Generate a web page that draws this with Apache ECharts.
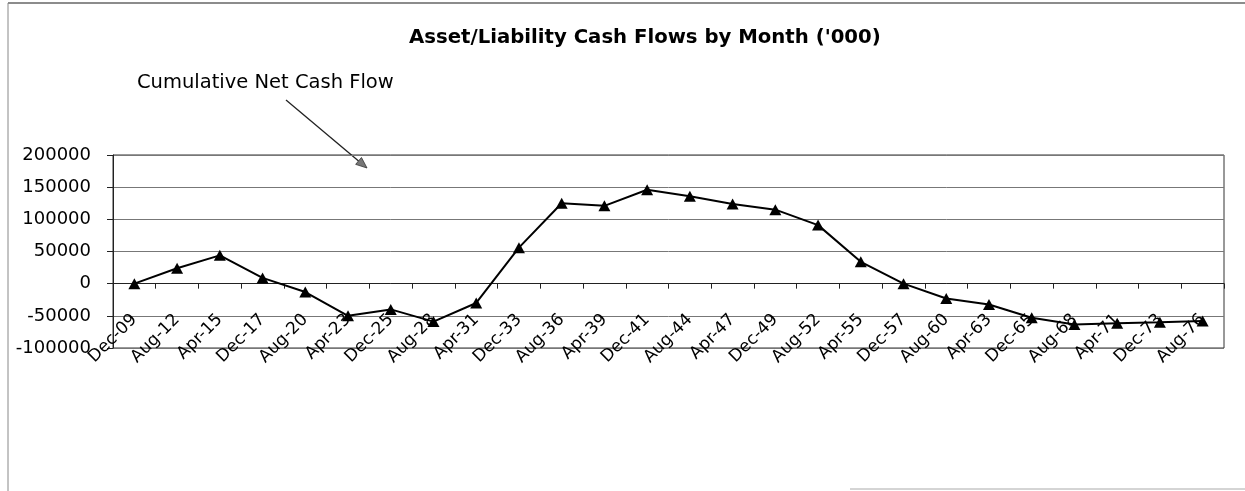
<!DOCTYPE html>
<html>
<head>
<meta charset="utf-8">
<script src="https://cdn.jsdelivr.net/npm/echarts@6/dist/echarts.min.js"></script>
<style>
  html, body { margin: 0; padding: 0; background: #fff; }
  #chart { width: 1245px; height: 491px; }
</style>
</head>
<body>
<div id="chart"></div>
<script>
const categories = ['Dec-09','Aug-12','Apr-15','Dec-17','Aug-20','Apr-23','Dec-25','Aug-28','Apr-31','Dec-33','Aug-36','Apr-39','Dec-41','Aug-44','Apr-47','Dec-49','Aug-52','Apr-55','Dec-57','Aug-60','Apr-63','Dec-65','Aug-68','Apr-71','Dec-73','Aug-76'];
const cumulativeNet = [0, 24000, 44000, 9000, -13000, -50000, -40000, -59000, -30000, 56000, 125000, 121000, 146000, 136000, 124000, 115000, 91000, 34000, 0, -23000, -32500, -53000, -63500, -61500, -60000, -58000];
const yTicks = { min: -100000, max: 200000, interval: 50000 };
const titleText = "Asset/Liability Cash Flows by Month ('000)";
const annotationText = 'Cumulative Net Cash Flow';

const FONT = "'DejaVu Sans', Arial, sans-serif";
const chart = echarts.init(document.getElementById('chart'), null, { renderer: 'canvas' });

// arrow geometry for annotation
const ax1 = 286, ay1 = 100, ax2 = 367, ay2 = 168;
const dx = ax2 - ax1, dy = ay2 - ay1, len = Math.sqrt(dx*dx + dy*dy);
const ux = dx/len, uy = dy/len, px = -uy, py = ux;
const headL = 11, headW = 4.5;
const hb = [ax2 - ux*headL, ay2 - uy*headL];

chart.setOption({
  backgroundColor: '#fff',
  animation: false,
  title: {
    text: titleText,
    left: 404,
    top: 23,
    textStyle: { fontFamily: FONT, fontSize: 19.7, fontWeight: 'bold', color: '#000' }
  },
  grid: { left: 113, right: 21, top: 155, bottom: 143, show: true, borderColor: '#333', borderWidth: 1 },
  xAxis: {
    type: 'category',
    data: categories,
    boundaryGap: true,
    axisLine: { onZero: true, lineStyle: { color: '#222', width: 1 } },
    axisTick: { show: true, length: 5, lineStyle: { color: '#222' } },
    axisLabel: {
      rotate: 45,
      margin: -31,
      interval: 0,
      fontFamily: FONT,
      fontSize: 17,
      color: '#000'
    },
    splitLine: { show: false }
  },
  yAxis: {
    type: 'value',
    min: yTicks.min,
    max: yTicks.max,
    interval: yTicks.interval,
    axisLine: { show: true, lineStyle: { color: '#222' } },
    axisTick: { show: true, length: 6, lineStyle: { color: '#222' } },
    axisLabel: { margin: 22, fontFamily: FONT, fontSize: 18, color: '#000', formatter: function (v) { return String(v); } },
    splitLine: { show: true, lineStyle: { color: '#777', width: 1 } }
  },
  series: [{
    type: 'line',
    data: cumulativeNet,
    symbol: 'triangle',
    symbolSize: [12, 11],
    itemStyle: { color: '#000' },
    lineStyle: { color: '#000', width: 2 },
    z: 5
  }],
  graphic: [
    { type: 'line', shape: { x1: 8, y1: 3, x2: 1245, y2: 3 }, style: { stroke: '#666', lineWidth: 1.5 }, silent: true },
    { type: 'line', shape: { x1: 8, y1: 3, x2: 8, y2: 491 }, style: { stroke: '#888', lineWidth: 1 }, silent: true },
    { type: 'line', shape: { x1: 850, y1: 489, x2: 1245, y2: 489 }, style: { stroke: '#aaa', lineWidth: 1 }, silent: true },
    { type: 'text', left: 137, top: 73, style: { text: annotationText, font: '19.5px ' + FONT, fill: '#000' } },
    { type: 'line', shape: { x1: ax1, y1: ay1, x2: hb[0], y2: hb[1] }, style: { stroke: '#222', lineWidth: 1.3 } },
    { type: 'polygon', shape: { points: [[ax2, ay2], [hb[0] + px*headW, hb[1] + py*headW], [hb[0] - px*headW, hb[1] - py*headW]] }, style: { fill: '#777', stroke: '#333', lineWidth: 0.8 } }
  ]
});
</script>
</body>
</html>
